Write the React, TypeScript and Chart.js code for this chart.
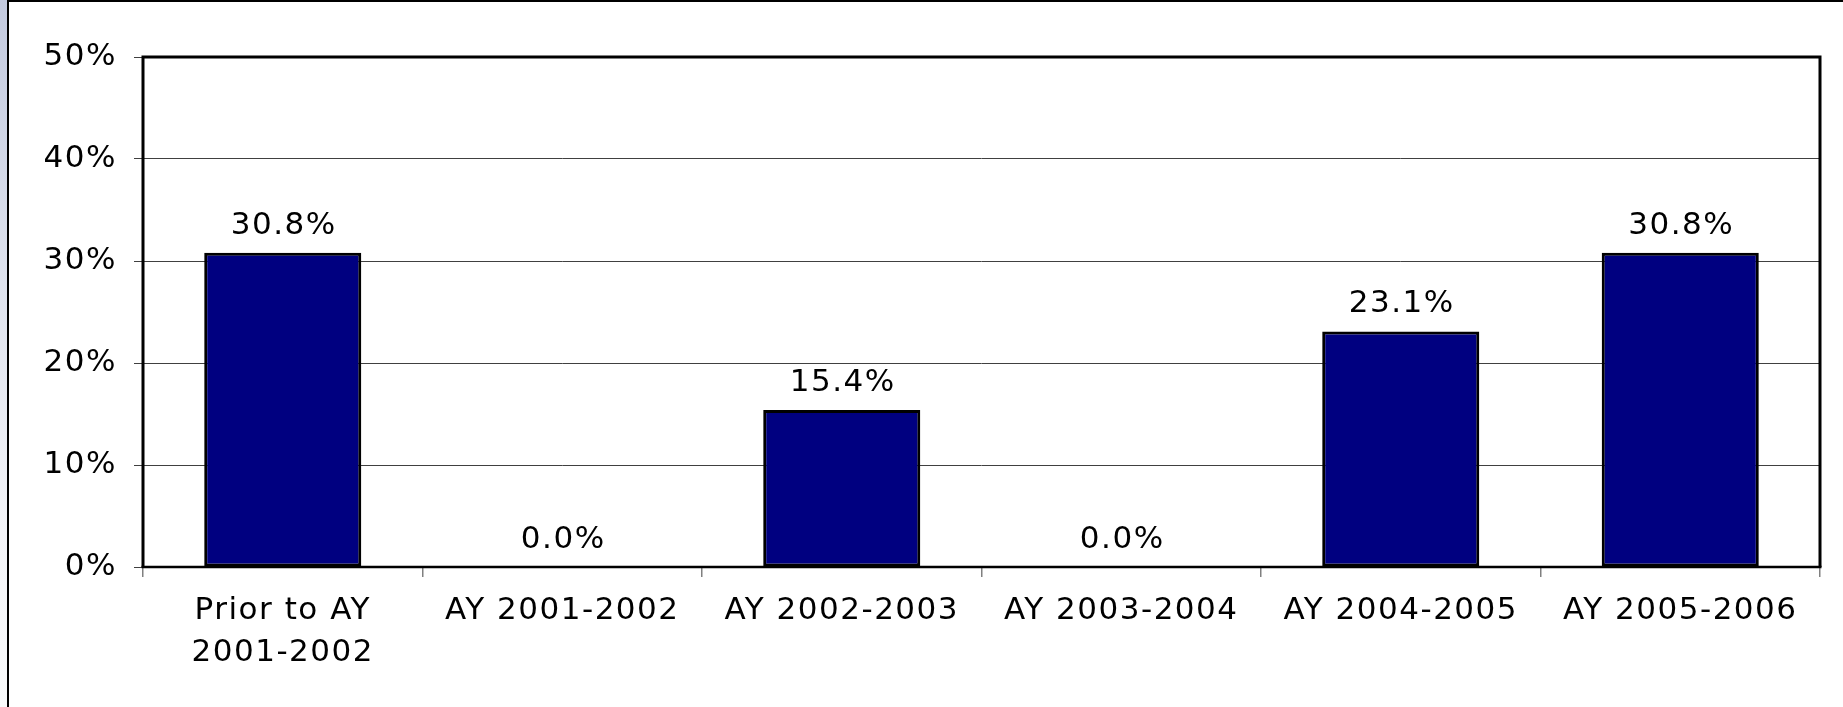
import React, { useEffect, useRef } from "react";
import { Chart, registerables } from "chart.js";

Chart.register(...registerables);

const categories: (string | string[])[] = [
  ["Prior to AY", "2001-2002"],
  "AY 2001-2002",
  "AY 2002-2003",
  "AY 2003-2004",
  "AY 2004-2005",
  "AY 2005-2006",
];
const shareValues: number[] = [30.8, 0.0, 15.4, 0.0, 23.1, 30.8];
const yTickValues: number[] = [0, 10, 20, 30, 40, 50];

const FONT = "'DejaVu Sans', Verdana, sans-serif";
const FONT_SIZE = 31;
const LETTER_SPACING = "1.5px";

const setSpacing = (chart: any) => {
  const ctx = chart.ctx as any;
  if (ctx && "letterSpacing" in ctx) ctx.letterSpacing = LETTER_SPACING;
};

const spacingPlugin = {
  id: "spacing",
  beforeUpdate: setSpacing,
  beforeLayout: setSpacing,
  beforeDraw: setSpacing,
};

const valueLabelPlugin = {
  id: "valueLabels",
  afterDatasetsDraw(chart: any) {
    const ctx = chart.ctx;
    const meta = chart.getDatasetMeta(0);
    ctx.save();
    setSpacing(chart);
    ctx.font = `${FONT_SIZE}px ${FONT}`;
    ctx.fillStyle = "#000";
    ctx.textAlign = "center";
    ctx.textBaseline = "alphabetic";
    meta.data.forEach((bar: any, i: number) => {
      const v = shareValues[i];
      ctx.fillText(v.toFixed(1) + "%", bar.x + 1, bar.y - 19);
    });
    ctx.restore();
  },
};

const framePlugin = {
  id: "plotFrame",
  afterDraw(chart: any) {
    const { ctx, chartArea } = chart;
    const { left, right, top, bottom } = chartArea;
    ctx.save();
    ctx.strokeStyle = "#000";
    ctx.lineWidth = 3;
    ctx.beginPath();
    ctx.moveTo(left, bottom);
    ctx.lineTo(left, top);
    ctx.lineTo(right, top);
    ctx.lineTo(right, bottom);
    ctx.stroke();
    ctx.lineWidth = 2.5;
    ctx.beginPath();
    ctx.moveTo(left - 1.5, bottom);
    ctx.lineTo(right + 1.5, bottom);
    ctx.stroke();
    ctx.restore();
  },
};

export default function App() {
  const canvasRef = useRef<HTMLCanvasElement | null>(null);

  useEffect(() => {
    if (!canvasRef.current) return;
    const chart = new Chart(canvasRef.current, {
      type: "bar",
      data: {
        labels: categories,
        datasets: [
          {
            data: shareValues,
            backgroundColor: "#000080",
            borderColor: "#000000",
            borderWidth: 3,
            borderSkipped: false,
            categoryPercentage: 1,
            barPercentage: 0.562,
          },
        ],
      },
      options: {
        responsive: false,
        animation: false,
        devicePixelRatio: 1,
        layout: { padding: { left: 0, right: 23, top: 55, bottom: 0 } },
        plugins: {
          legend: { display: false },
          tooltip: { enabled: false },
          title: { display: false },
        },
        scales: {
          x: {
            offset: true,
            grid: {
              offset: true,
              drawOnChartArea: false,
              drawTicks: true,
              tickLength: 10,
              color: "#808080",
              lineWidth: 1.5,
            },
            border: { display: false },
            ticks: {
              color: "#000",
              padding: 13,
              maxRotation: 0,
              autoSkip: false,
              font: { family: FONT, size: FONT_SIZE, lineHeight: 1.36 },
            },
            afterFit(scale: any) {
              scale.height = 140;
            },
          },
          y: {
            min: 0,
            max: 50,
            afterBuildTicks(scale: any) {
              scale.ticks = yTickValues.map((v) => ({ value: v }));
            },
            grid: {
              color: "#404040",
              lineWidth: 1,
              tickLength: 9,
              drawTicks: true,
            },
            border: { display: false },
            ticks: {
              color: "#000",
              padding: 17,
              font: { family: FONT, size: FONT_SIZE },
              callback: (v: any) => `${v}%`,
            },
            afterFit(scale: any) {
              scale.width = 134;
            },
          },
        },
      },
      plugins: [spacingPlugin, valueLabelPlugin, framePlugin],
    });
    return () => chart.destroy();
  }, []);

  return (
    <div
      style={{
        position: "fixed",
        left: 0,
        top: 0,
        width: 1843,
        height: 707,
        background: "#ffffff",
        overflow: "hidden",
      }}
    >
      <div
        style={{
          position: "absolute",
          left: 0,
          top: 0,
          width: 7,
          height: 707,
          background: "linear-gradient(to bottom, #c3cadf 0%, #dfe3ee 40%, #f3f4f8 75%, #f9fafb 100%)",
        }}
      />
      <div
        style={{
          position: "absolute",
          left: 7,
          top: 0,
          width: 1836,
          height: 707,
          borderLeft: "2px solid #000",
          borderTop: "2px solid #000",
          boxSizing: "border-box",
        }}
      />
      <canvas
        ref={canvasRef}
        width={1834}
        height={705}
        style={{ position: "absolute", left: 9, top: 2, width: 1834, height: 705 }}
      />
    </div>
  );
}
